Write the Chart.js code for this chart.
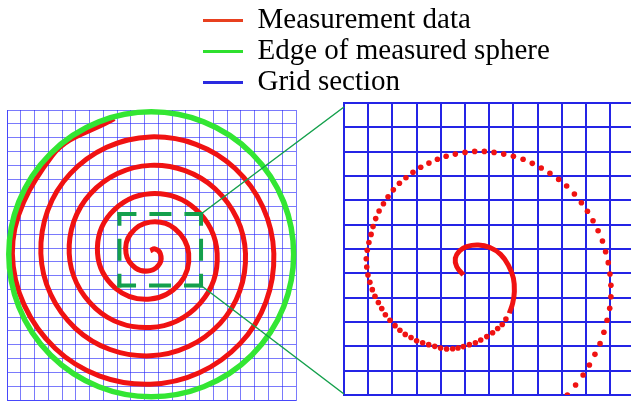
<!DOCTYPE html>
<html><head><meta charset="utf-8">
<script src="https://cdn.jsdelivr.net/npm/chart.js@4.4.1/dist/chart.umd.min.js"></script>
<style>
html,body{margin:0;padding:0;background:#fff;overflow:hidden;width:631px;height:404px;}
canvas{position:absolute;}
#c1{left:0;top:0;}
#c2{left:0;top:0;}
#c3{left:201px;top:4px;}
</style></head><body>
<canvas id="c1" width="631" height="404"></canvas>
<canvas id="c2" width="640" height="404"></canvas>
<canvas id="c3" width="430" height="260"></canvas>
<script>
// ---- Legend ----
const legendLabels = ['Measurement data', 'Edge of measured sphere', 'Grid section'];
const legendColors = ['#e8401f', '#2fe02f', '#2a2ae0'];

// ---- Left panel (grid units: 21 x 21 cells), spiral read every 1/8 turn ----
const leftCells = [21, 21];
const spiralX = [10.41, 10.74, 11.14, 11.11, 10.41, 9.35, 8.65, 8.98, 10.41, 12.20,
  13.20, 12.57, 10.41, 7.89, 6.58, 7.52, 10.41, 13.66, 15.27, 14.03,
  10.41, 6.43, 4.52, 6.06, 10.41, 15.12, 17.33, 15.49, 10.41, 4.97,
  2.46, 4.60, 10.41, 16.58, 19.39, 16.95, 10.41, 3.51, 0.39, 3.29, 7.79];
const spiralY = [10.82, 10.94, 10.61, 9.91, 9.37, 9.55, 10.61, 12.03, 12.88, 12.40,
  10.61, 8.46, 7.31, 8.09, 10.61, 13.49, 14.94, 13.85, 10.61, 7.00,
  5.25, 6.64, 10.61, 14.94, 16.99, 15.30, 10.61, 5.55, 3.20, 5.19,
  10.61, 16.39, 19.05, 16.76, 10.61, 4.10, 1.14, 3.73, 10.61, 17.70, 20.37];
const sphereCenter = [10.48, 10.55];
const sphereRadius = 10.35;
const zoomBoxX = [8.17, 14.10, 14.10, 8.17, 8.17];
const zoomBoxY = [13.47, 13.47, 8.29, 8.29, 13.47];

// ---- Right panel (grid units: 12 x 12 cells) ----
const rightCells = [12, 12];
const innerX = [4.93, 4.66, 4.60, 4.77, 5.07, 5.55, 6.03, 6.47, 6.79, 7.00, 7.04, 6.97, 6.83];
const innerY = [4.93, 5.27, 5.62, 5.92, 6.10, 6.16, 6.06, 5.78, 5.34, 4.80, 4.25, 3.77, 3.36];
const dotsX = [6.69, 6.54, 6.35, 6.14, 5.90, 5.65, 5.43, 5.18, 4.93, 4.71,
  4.49, 4.24, 3.99, 3.75, 3.50, 3.25, 3.00, 2.77, 2.53, 2.31,
  2.11, 1.90, 1.71, 1.56, 1.42, 1.28, 1.17, 1.07, 0.99, 0.94,
  0.92, 0.96, 1.03, 1.12, 1.20, 1.31, 1.45, 1.63, 1.82, 2.04,
  2.29, 2.56, 2.85, 3.17, 3.51, 3.86, 4.22, 4.60, 5.00, 5.40,
  5.80, 6.20, 6.60, 7.00, 7.40, 7.78, 8.15, 8.51, 8.87, 9.20,
  9.52, 9.81, 10.06, 10.29, 10.50, 10.68, 10.81, 10.92, 10.99, 11.03,
  11.03, 10.98, 10.87, 10.74, 10.58, 10.37, 10.14, 9.88, 9.57, 9.23];
const dotsY = [3.12, 2.90, 2.73, 2.56, 2.40, 2.26, 2.15, 2.07, 1.99, 1.93,
  1.90, 1.89, 1.93, 2.00, 2.07, 2.15, 2.23, 2.36, 2.49, 2.66,
  2.85, 3.07, 3.30, 3.55, 3.80, 4.06, 4.33, 4.63, 4.93, 5.26,
  5.60, 5.95, 6.27, 6.60, 6.92, 7.25, 7.56, 7.86, 8.15, 8.43,
  8.70, 8.93, 9.15, 9.36, 9.53, 9.69, 9.81, 9.90, 9.97, 10.01,
  10.01, 9.97, 9.90, 9.81, 9.69, 9.52, 9.33, 9.11, 8.86, 8.59,
  8.26, 7.90, 7.55, 7.16, 6.75, 6.33, 5.89, 5.44, 4.97, 4.51,
  4.04, 3.56, 3.07, 2.58, 2.11, 1.67, 1.23, 0.82, 0.41, 0.00];

const zip = (xs, ys) => xs.map((x, i) => ({x: x, y: ys[i]}));

const RED = '#f01212';
const SPHERE_GREEN = '#33e633';
const BOX_GREEN = '#14a04c';
const GRID_L = 'rgba(40,40,250,0.62)';
const GRID_R = '#2424e6';

function gridScale(max, color, w) {
  return {
    type: 'linear', min: 0, max: max,
    ticks: {display: false, stepSize: 1},
    grid: {color: color, lineWidth: w, drawTicks: false},
    border: {color: color, width: w}
  };
}

const c1 = new Chart(document.getElementById('c1'), {
  type: 'scatter',
  data: {datasets: [
    {
      label: legendLabels[1],
      data: [{x: sphereCenter[0], y: sphereCenter[1]}],
      pointStyle: 'circle',
      pointRadius: (ctx) => {
        const s = ctx.chart.scales.x;
        return Math.abs(s.getPixelForValue(sphereRadius) - s.getPixelForValue(0));
      },
      pointBackgroundColor: 'rgba(0,0,0,0)',
      pointBorderColor: SPHERE_GREEN,
      pointBorderWidth: 5.5,
      clip: false,
      order: 0
    },
    {
      label: 'zoom box',
      data: zip(zoomBoxX, zoomBoxY),
      showLine: true,
      borderColor: BOX_GREEN,
      borderWidth: 4,
      borderDash: [18, 17],
      borderCapStyle: 'square',
      segment: {
        borderDashOffset: (ctx) => (ctx.p0DataIndex % 2 === 0 ? 3 : 8.25)
      },
      pointRadius: 0,
      tension: 0,
      clip: false,
      order: 1
    },
    {
      label: legendLabels[0],
      data: zip(spiralX, spiralY),
      showLine: true,
      borderColor: RED,
      borderWidth: 5,
      pointRadius: 0,
      tension: 0.375,
      clip: false,
      order: 2
    }
  ]},
  options: {
    responsive: false, animation: false, events: [],
    layout: {padding: {left: 7, top: 110, right: 335, bottom: 4}},
    plugins: {legend: {display: false}, tooltip: {enabled: false}},
    scales: {x: gridScale(leftCells[0], GRID_L, 1), y: gridScale(leftCells[1], GRID_L, 1)}
  }
});

const connectors = {
  id: 'connectors',
  afterDraw(chart) {
    const sx = c1.scales.x, sy = c1.scales.y, a = chart.chartArea, ctx = chart.ctx;
    ctx.save();
    ctx.strokeStyle = BOX_GREEN;
    ctx.lineWidth = 1.5;
    ctx.beginPath();
    ctx.moveTo(sx.getPixelForValue(zoomBoxX[1]), sy.getPixelForValue(zoomBoxY[1]));
    ctx.lineTo(a.left, a.top + 4);
    ctx.moveTo(sx.getPixelForValue(zoomBoxX[2]), sy.getPixelForValue(zoomBoxY[2]));
    ctx.lineTo(a.left, a.bottom - 1);
    ctx.stroke();
    ctx.restore();
  }
};

const c2 = new Chart(document.getElementById('c2'), {
  type: 'scatter',
  data: {datasets: [
    {
      label: legendLabels[0] + ' (dense)',
      data: zip(innerX, innerY),
      showLine: true,
      borderColor: RED,
      borderWidth: 5,
      pointRadius: 0,
      tension: 0.4,
      order: 0
    },
    {
      label: legendLabels[0],
      data: zip(dotsX, dotsY),
      showLine: false,
      pointRadius: 2.8,
      pointBackgroundColor: RED,
      pointBorderWidth: 0,
      order: 0
    }
  ]},
  options: {
    responsive: false, animation: false, events: [],
    layout: {padding: {left: 344, top: 103, right: 5.6, bottom: 9}},
    plugins: {legend: {display: false}, tooltip: {enabled: false}},
    scales: {x: gridScale(rightCells[0], GRID_R, 2), y: gridScale(rightCells[1], GRID_R, 2)}
  },
  plugins: [connectors]
});

const c3 = new Chart(document.getElementById('c3'), {
  type: 'line',
  data: {labels: [], datasets: legendLabels.map((l, i) => ({
    label: l, data: [], backgroundColor: legendColors[i], borderColor: legendColors[i], borderWidth: 0
  }))},
  options: {
    responsive: false, animation: false, events: [],
    plugins: {
      tooltip: {enabled: false},
      legend: {
        display: true, position: 'top', align: 'start',
        labels: {boxWidth: 40, boxHeight: 3, padding: 2, color: '#000',
          font: {family: "'Liberation Serif', 'Times New Roman', serif", size: 29}}
      }
    },
    scales: {x: {display: false}, y: {display: false}}
  }
});
</script>
</body></html>
